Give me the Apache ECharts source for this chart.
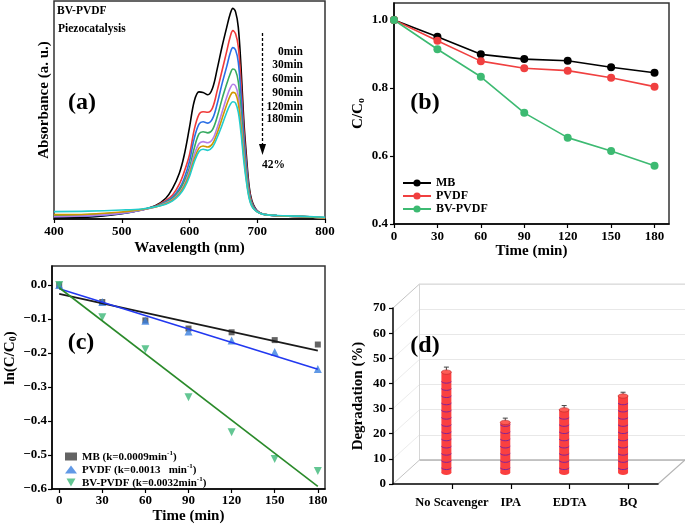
<!DOCTYPE html>
<html><head><meta charset="utf-8">
<script src="https://cdn.jsdelivr.net/npm/echarts@6/dist/echarts.min.js"></script>
<style>html,body{margin:0;padding:0;background:#fff}#c{width:685px;height:527px}</style>
</head><body><div id="c"></div>
<script>
// ---------- Panel (a) data: UV-vis spectra ----------
const wavelengths = [400,450,500,530,550,565,575,585,592,600,607,614,620,627,634,641,648,655,660,664,668,672,676,680,684,688,692,697,703,712,730,760,800];
const abs0min   = [.005,.008,.024,.042,.062,.095,.14,.21,.29,.42,.54,.583,.58,.57,.60,.69,.79,.88,.94,.966,.95,.88,.70,.46,.29,.15,.085,.05,.03,.02,.015,.012,.004];
const abs30min  = [.015,.016,.028,.042,.060,.085,.11,.16,.215,.295,.41,.48,.492,.49,.51,.59,.68,.77,.835,.864,.85,.79,.63,.42,.26,.135,.078,.046,.03,.02,.015,.012,.005];
const abs60min  = [.012,.014,.026,.042,.058,.080,.10,.14,.185,.265,.37,.435,.446,.44,.46,.53,.62,.70,.76,.786,.775,.72,.57,.38,.24,.125,.072,.045,.03,.02,.015,.012,.005];
const abs90min  = [.018,.020,.030,.043,.057,.077,.095,.13,.17,.235,.325,.39,.40,.395,.41,.47,.55,.62,.665,.688,.68,.63,.50,.34,.21,.115,.067,.04,.028,.02,.015,.012,.005];
const abs120min = [.010,.015,.027,.042,.055,.073,.09,.12,.155,.22,.295,.345,.355,.35,.365,.42,.49,.56,.60,.618,.61,.565,.45,.31,.19,.105,.062,.04,.028,.02,.015,.012,.005];
const abs150min = [.020,.022,.032,.044,.055,.070,.087,.115,.148,.205,.275,.325,.335,.33,.345,.395,.46,.525,.565,.581,.575,.53,.425,.29,.18,.10,.06,.04,.028,.02,.015,.012,.005];
const abs180min = [.034,.036,.041,.046,.056,.068,.083,.11,.14,.195,.262,.31,.32,.315,.33,.375,.43,.49,.525,.538,.532,.49,.395,.27,.17,.095,.058,.04,.028,.02,.016,.013,.008];
const spectraNames = ['0min','30min','60min','90min','120min','150min','180min'];
const spectraLabels = ['0min','30min','60min','90min','120min','180min'];

// ---------- Panel (b) data ----------
const timeMin = [0,30,60,90,120,150,180];
const ratioMB   = [1.0,0.951,0.899,0.885,0.880,0.861,0.845];
const ratioPVDF = [1.0,0.939,0.879,0.858,0.851,0.830,0.804];
const ratioBV   = [1.0,0.914,0.833,0.727,0.654,0.615,0.571];
const ratioTicks = [0.4,0.6,0.8,1.0];

// ---------- Panel (c) data ----------
const lnMB   = [0,-0.050,-0.104,-0.128,-0.139,-0.162,-0.175];
const lnPVDF = [0,-0.050,-0.105,-0.137,-0.163,-0.197,-0.247];
const lnBV   = [0,-0.095,-0.189,-0.330,-0.433,-0.512,-0.547];
const fitTime = [0,180];
const fitMB   = [-0.026,-0.193];
const fitPVDF = [-0.011,-0.248];
const fitBV   = [-0.008,-0.592];
const lnTicks = [-0.6,-0.5,-0.4,-0.3,-0.2,-0.1,0];
const kNames = ['MB (k=0.0009min','PVDF (k=0.0013   min','BV-PVDF (k=0.0032min'];

// ---------- Panel (d) data ----------
const scavengers = ['No Scavenger','IPA','EDTA','BQ'];
const degradation = [40,20,25,30.5];
const degradationErr = [2,1.7,1.7,1.5];
const degTicks = [0,10,20,30,40,50,60,70];

const SERIF = '"Liberation Serif","Times New Roman",serif';
const lbl = {fontFamily:SERIF,fontWeight:'bold',fontSize:13,color:'#000'};
const nameStyle = {fontFamily:SERIF,fontWeight:'bold',fontSize:15,color:'#000'};

const chart = echarts.init(document.getElementById('c'), null, {renderer:'canvas'});

const spectraColors = ['#000000','#f03a3a','#2a6fe6','#36aa60','#b47ee8','#cf9700','#22cccc'];
const spectraData = [abs0min,abs30min,abs60min,abs90min,abs120min,abs150min,abs180min];

const series = [];
spectraData.forEach((arr,i)=>{
  series.push({type:'line',name:spectraNames[i],xAxisIndex:0,yAxisIndex:0,smooth:0.35,showSymbol:false,
    data:wavelengths.map((w,j)=>[w,arr[j]]),lineStyle:{color:spectraColors[i],width:1.6},itemStyle:{color:spectraColors[i]},silent:true});
});
// panel b
[[ 'MB',ratioMB,'#000000'],['PVDF',ratioPVDF,'#f04040'],['BV-PVDF',ratioBV,'#3dba72']].forEach(([n,arr,c])=>{
  series.push({type:'line',name:n,xAxisIndex:1,yAxisIndex:1,symbol:'circle',symbolSize:8,
    data:timeMin.map((t,j)=>[t,arr[j]]),lineStyle:{color:c,width:1.6},itemStyle:{color:c}});
});
// panel c fit lines
[[fitMB,'#1a1a1a'],[fitPVDF,'#2238f0'],[fitBV,'#2a8a2a']].forEach(([arr,c])=>{
  series.push({type:'line',xAxisIndex:2,yAxisIndex:2,showSymbol:false,
    data:fitTime.map((t,j)=>[t,arr[j]]),lineStyle:{color:c,width:1.6},silent:true});
});
// panel c points
const DOWN_TRI = 'path://M0,0 L10,0 L5,9 Z';
[[kNames[0],lnMB,'#3c3c3c','rect',6],[kNames[1],lnPVDF,'#3a80e0','triangle',8],[kNames[2],lnBV,'#3cb878',DOWN_TRI,8]].forEach(([n,arr,c,s,sz])=>{
  series.push({type:'scatter',name:n,xAxisIndex:2,yAxisIndex:2,symbol:s,symbolSize:sz,
    data:timeMin.map((t,j)=>[t,arr[j]]),itemStyle:{color:c}});
});
// panel d cylinders
series.push({type:'custom',xAxisIndex:4,yAxisIndex:4,
  data:degradation.map((v,i)=>[i+1,v,degradationErr[i]]),
  encode:{x:0,y:1},
  renderItem:function(params,api){
    const x=api.value(0), v=api.value(1), e=api.value(2);
    const top=api.coord([x,v]), base=api.coord([x,0]), et=api.coord([x,v+e]);
    const w=10, rx=w/2, ry=2.2;
    const ch=[];
    ch.push({type:'line',shape:{x1:top[0],y1:top[1],x2:et[0],y2:et[1]},style:{stroke:'#444',lineWidth:1}});
    ch.push({type:'line',shape:{x1:et[0]-2.5,y1:et[1],x2:et[0]+2.5,y2:et[1]},style:{stroke:'#444',lineWidth:1}});
    ch.push({type:'ellipse',shape:{cx:base[0],cy:base[1],rx:rx,ry:ry},style:{fill:'#fa4040'}});
    ch.push({type:'rect',shape:{x:top[0]-rx,y:top[1],width:w,height:base[1]-top[1]},style:{fill:'#fa4040'}});
    for(let y=base[1]-4;y>top[1]+3;y-=7.2){
      ch.push({type:'bezierCurve',shape:{x1:top[0]-rx,y1:y-0.8,x2:top[0]+rx,y2:y-0.8,cpx1:top[0]-rx+1.5,cpy1:y+1.4,cpx2:top[0]+rx-1.5,cpy2:y+1.4},
        style:{stroke:'#7a20a0',lineWidth:0.95,fill:null}});
    }
    ch.push({type:'ellipse',shape:{cx:top[0],cy:top[1],rx:rx,ry:ry},style:{fill:'#ff5c55',stroke:'#b8282a',lineWidth:0.6}});
    return {type:'group',children:ch};
  }
});

const tickOut = {show:true,inside:false,length:4,lineStyle:{color:'#000',width:1.2}};
const axLine = {show:true,onZero:false,lineStyle:{color:'#000',width:1.5}};
const richName = {a:{fontFamily:SERIF,fontWeight:'bold',fontSize:15,lineHeight:18,verticalAlign:'bottom'},s:{fontFamily:SERIF,fontWeight:'bold',fontSize:10,lineHeight:18,verticalAlign:'bottom'}};

const option = {
  animation:false,
  backgroundColor:'#fff',
  grid:[
    {left:54,top:1,width:271,height:218,show:true,borderColor:'#333',borderWidth:1.5},
    {left:394,top:3,width:275,height:221,show:true,borderColor:'#333',borderWidth:1.5},
    {left:52,top:266,width:273,height:223,show:true,borderColor:'#333',borderWidth:1.5},
    {left:393,top:308,width:265,height:176},
    {left:387.5,top:296.7,width:265,height:176},
    {left:419.5,top:284,width:266,height:176}
  ],
  xAxis:[
    {gridIndex:0,type:'value',min:400,max:800,interval:100,axisLine:axLine,axisTick:tickOut,splitLine:{show:false},
      axisLabel:{...lbl,margin:6},name:'Wavelength (nm)',nameLocation:'middle',nameGap:22,nameTextStyle:nameStyle},
    {gridIndex:1,type:'value',min:0,max:190,axisLine:axLine,splitLine:{show:false},
      axisTick:{...tickOut,customValues:timeMin},axisLabel:{...lbl,margin:6,customValues:timeMin},
      name:'Time (min)',nameLocation:'middle',nameGap:19,nameTextStyle:nameStyle},
    {gridIndex:2,type:'value',min:-5,max:185,axisLine:axLine,splitLine:{show:false},
      axisTick:{...tickOut,customValues:timeMin},axisLabel:{...lbl,margin:5,customValues:timeMin},
      name:'Time (min)',nameLocation:'middle',nameGap:20,nameTextStyle:nameStyle},
    {gridIndex:3,type:'value',min:0,max:4.5,axisLine:axLine,splitLine:{show:false},
      axisTick:{...tickOut,length:5,customValues:[1,2,3,4]},
      axisLabel:{...lbl,fontSize:12.5,margin:12,customValues:[1,2,3,4],formatter:v=>scavengers[Math.round(v)-1]||''}},
    {gridIndex:4,type:'value',min:0,max:4.5,show:false},
    {gridIndex:5,type:'value',min:0,max:4.5,show:false}
  ],
  yAxis:[
    {gridIndex:0,type:'value',min:0,max:1,axisLine:{show:false},axisTick:{show:false},axisLabel:{show:false},splitLine:{show:false}},
    {gridIndex:1,type:'value',min:0.4,max:1.05,axisLine:axLine,splitLine:{show:false},
      axisTick:{...tickOut,customValues:ratioTicks},axisLabel:{...lbl,margin:6,customValues:ratioTicks,formatter:v=>v.toFixed(1)},
      name:'{a|C/C}{s|o}',nameLocation:'middle',nameGap:28,nameTextStyle:{...nameStyle,rich:richName}},
    {gridIndex:2,type:'value',min:-0.6,max:0.056,axisLine:axLine,splitLine:{show:false},
      axisTick:{...tickOut,customValues:lnTicks},axisLabel:{...lbl,margin:5,customValues:lnTicks,formatter:v=>v===0?'0.0':(v<0?'\u2212':'')+Math.abs(v).toFixed(1)}},
    {gridIndex:3,type:'value',min:0,max:70,interval:10,axisLine:axLine,splitLine:{show:false},
      axisTick:tickOut,axisLabel:{...lbl,margin:7},
      name:'Degradation (%)',nameLocation:'middle',nameGap:27,nameTextStyle:nameStyle},
    {gridIndex:4,type:'value',min:0,max:70,show:false},
    {gridIndex:5,type:'value',min:0,max:70,interval:10,axisLine:{show:false},axisTick:{show:false},axisLabel:{show:false},
      splitLine:{show:true,lineStyle:{color:'#e8e8e8',width:1}}}
  ],
  legend:[
    {data:['MB','PVDF','BV-PVDF'],left:397,top:172,orient:'vertical',itemWidth:28,itemHeight:9,itemGap:1,
      textStyle:{fontFamily:SERIF,fontWeight:'bold',fontSize:12,color:'#000'}},
    {data:kNames.map(n=>({name:n})),left:60,top:445,orient:'vertical',itemWidth:12,itemHeight:8,itemGap:0,
      formatter:n=>'{t|'+n+'}{s|-1}{t|)}',
      textStyle:{fontFamily:SERIF,fontWeight:'bold',fontSize:11,color:'#000',
        rich:{t:{fontFamily:SERIF,fontWeight:'bold',fontSize:11,lineHeight:13,verticalAlign:'bottom'},s:{fontFamily:SERIF,fontWeight:'bold',fontSize:7,lineHeight:13,verticalAlign:'top'}}}}
  ],
  series:series
};
chart.setOption(option);

// ---------- annotations & 3D frame, positioned from the axes ----------
const g = [];
const txt = (x,y,s,size,align,rot)=>({type:'text',x:x,y:y,z:10,rotation:rot||0,style:{text:s,fontFamily:SERIF,fontWeight:'bold',fontSize:size,fill:'#000',align:align||'left',verticalAlign:'middle'}});
g.push(txt(44,100,'Absorbance (a. u.)',15,'center',Math.PI/2));
g.push({type:'text',x:9,y:358,z:10,rotation:Math.PI/2,style:{text:'{a|ln(C/C}{s|0}{a|)}',rich:richName,fontFamily:SERIF,fontWeight:'bold',fontSize:15,fill:'#000',align:'center',verticalAlign:'middle'}});
g.push(txt(57,11,'BV-PVDF',11.5));
g.push(txt(58,29,'Piezocatalysis',11.5));
const labelYs=[51.7,65.3,79.3,93.3,107.4,119.5];
spectraLabels.forEach((s,i)=>g.push(txt(303,labelYs[i],s,11.5,'right')));
g.push({type:'line',z:10,shape:{x1:262.5,y1:33,x2:262.5,y2:146},style:{stroke:'#000',lineWidth:1.3,lineDash:[3,2]}});
g.push({type:'polygon',z:10,shape:{points:[[259,144],[266,144],[262.5,155]]},style:{fill:'#000'}});
g.push(txt(262,165,'42%',11.5));
g.push(txt(82,103,'(a)',24,'center'));
g.push(txt(425,103,'(b)',24,'center'));
g.push(txt(81,343,'(c)',24,'center'));
g.push(txt(425,346,'(d)',24,'center'));

const F = p=>chart.convertToPixel({xAxisIndex:3,yAxisIndex:3},p);
const B = p=>chart.convertToPixel({xAxisIndex:5,yAxisIndex:5},p);
const seg=(a,b,c,w)=>({type:'line',z:0,shape:{x1:a[0],y1:a[1],x2:b[0],y2:b[1]},style:{stroke:c,lineWidth:w||1}});
degTicks.forEach(v=>{
  const edge = (v===0||v===70);
  g.push(seg(F([0,v]),B([0,v]),edge?'#c4c4c4':'#ececec',1));
});
g.push(seg(B([0,0]),B([0,70]),'#d6d6d6',1));
g.push(seg(B([0,70]),B([4.5,70]),'#d6d6d6',1));
g.push(seg(B([0,0]),B([4.5,0]),'#b4b4b4',1.5));
g.push(seg(F([4.5,0]),B([4.5,0]),'#b4b4b4',1.2));
chart.setOption({graphic:{elements:g}});
</script></body></html>
